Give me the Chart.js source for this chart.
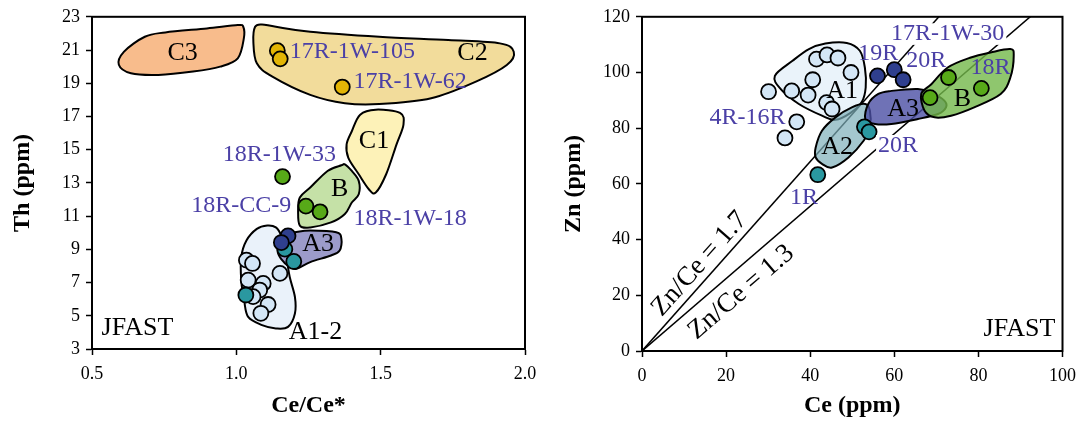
<!DOCTYPE html>
<html>
<head>
<meta charset="utf-8">
<script src="https://cdn.jsdelivr.net/npm/chart.js@4.4.0/dist/chart.umd.min.js"></script>
<style>
  html, body { margin: 0; padding: 0; background: #fff; }
  #wrap { position: relative; width: 1084px; height: 422px; }
  #left { position: absolute; left: 0; top: 0; width: 545px; height: 422px; }
  #right { position: absolute; left: 545px; top: 0; width: 539px; height: 422px; }
</style>
</head>
<body>
<div id="wrap">
  <canvas id="left" width="545" height="422"></canvas>
  <canvas id="right" width="539" height="422"></canvas>
</div>
<script>
// ---------- left panel: Ce/Ce* vs Th ----------
const ceAnomTicks = [0.5, 1.0, 1.5, 2.0];
const thTicks = [3, 5, 7, 9, 11, 13, 15, 17, 19, 21, 23];

const yellowCeAnom = [1.142, 1.152, 1.367];
const yellowTh = [20.96, 20.47, 18.77];
const greenCeAnom = [1.16, 1.241, 1.29];
const greenTh = [13.38, 11.6, 11.26];
const navyCeAnom = [1.179, 1.156];
const navyTh = [9.81, 9.41];
const tealCeAnom = [1.168, 1.199, 1.033];
const tealTh = [9.01, 8.27, 6.25];
const paleCeAnom = [1.035, 1.056, 1.151, 1.041, 1.093, 1.081, 1.058, 1.110, 1.085];
const paleTh = [8.35, 8.15, 7.55, 7.15, 6.95, 6.55, 6.15, 5.68, 5.15];

// field outlines, [Ce/Ce*, Th]
const fieldC3 = [[0.593,20.11],[0.611,20.9],[0.683,21.8],[0.754,22.06],[0.898,22.3],[1.005,22.5],[1.024,22.4],[1.026,21.7],[1.005,20.5],[0.944,20.0],[0.850,19.7],[0.730,19.5],[0.635,19.6]];
const fieldC2 = [[1.065,22.4],[1.089,22.54],[1.137,22.4],[1.256,22.1],[1.495,21.8],[1.734,21.6],[1.913,21.4],[1.961,20.9],[1.937,20.1],[1.830,19.1],[1.675,18.1],[1.495,17.75],[1.376,17.8],[1.256,18.3],[1.125,19.4],[1.071,20.2],[1.059,21.5]];
const fieldC1 = [[1.429,17.11],[1.483,17.41],[1.567,17.21],[1.579,16.51],[1.555,15.32],[1.519,13.52],[1.483,12.42],[1.459,12.62],[1.424,13.52],[1.388,14.51],[1.382,15.32],[1.400,16.11]];
const fieldB1 = [[1.376,14.12],[1.400,13.72],[1.424,13.12],[1.424,12.32],[1.40,11.82],[1.376,11.13],[1.328,10.62],[1.256,10.32],[1.22,10.43],[1.214,11.32],[1.22,12.12],[1.256,12.72],[1.316,13.72],[1.364,14.06]];
const fieldA12 = [[1.107,10.43],[1.137,10.32],[1.155,9.83],[1.173,8.53],[1.185,7.33],[1.203,6.13],[1.203,5.14],[1.179,4.33],[1.137,4.24],[1.089,4.44],[1.041,4.93],[1.027,5.93],[1.017,7.13],[1.017,8.53],[1.035,9.53],[1.071,10.23]];
const fieldA3L = [[1.203,10.03],[1.256,10.13],[1.346,10.03],[1.364,9.63],[1.358,8.93],[1.328,8.63],[1.256,8.23],[1.209,7.83],[1.185,7.93],[1.155,8.43],[1.143,8.93],[1.155,9.53],[1.173,9.93]];

// ---------- right panel: Ce vs Zn ----------
const ceTicks = [0, 20, 40, 60, 80, 100];
const znTicks = [0, 20, 40, 60, 80, 100, 120];

const paleCe = [30.1, 35.6, 39.5, 40.6, 41.5, 44.0, 46.6, 49.7, 43.9, 45.2, 36.8, 34.0];
const paleZn = [93.1, 93.4, 91.9, 97.4, 104.8, 106.3, 105.2, 100.0, 89.2, 86.9, 82.3, 76.5];
const navyCe = [56.0, 60.0, 62.1];
const navyZn = [98.8, 101.0, 97.4];
const tealCe = [52.9, 54.0, 41.8];
const tealZn = [80.5, 78.7, 63.3];
const greenCe = [68.5, 72.9, 80.7];
const greenZn = [91.0, 98.2, 94.3];

// Zn/Ce reference lines, end points [Ce, Zn]
const ratio17 = [[0, 0], [75, 127.5]];
const ratio13 = [[0, 0], [100, 130]];

const fieldA1 = [[31.6,98.8],[35.8,104.2],[39.7,108.4],[43.6,110.4],[48.7,110.6],[51.8,107.8],[53.0,101.8],[53.2,94.6],[52.3,89.5],[49.6,85.5],[46.0,83.0],[42.8,84.5],[37.3,88.7],[33.0,94.0]];
const fieldA2 = [[41.3,73.1],[42.8,79.1],[46.0,83.9],[49.9,87.5],[53.1,88.7],[54.2,86.3],[54.2,80.3],[52.7,75.5],[49.1,69.5],[45.2,65.9],[42.8,67.2],[41.3,69.5]];
const fieldA3R = [[53.8,88.7],[56.2,92.3],[59.3,93.4],[65.6,94.1],[68.8,92.8],[71.9,89.9],[72.3,87.5],[70.4,85.1],[65.6,83.3],[59.3,81.5],[55.4,81.5],[53.1,83.3]];
const fieldB2 = [[66.4,92.3],[68.8,95.8],[72.7,101.8],[78.2,105.4],[82.9,107.2],[87.6,108.4],[88.4,106.0],[87.6,98.2],[85.3,92.3],[79.0,87.5],[73.5,84.5],[69.6,83.9],[67.2,86.3]];

const SERIF = '"Liberation Serif", "Times New Roman", serif';
const LABEL_BLUE = '#4b40a6';

function zip(xs, ys) {
  return xs.map((v, i) => ({ x: v, y: ys[i] }));
}

// closed catmull-rom curve through the outline points
function blobPath(ctx, pts) {
  const n = pts.length;
  ctx.beginPath();
  ctx.moveTo(pts[0][0], pts[0][1]);
  for (let i = 0; i < n; i++) {
    const p0 = pts[(i - 1 + n) % n], p1 = pts[i], p2 = pts[(i + 1) % n], p3 = pts[(i + 2) % n];
    ctx.bezierCurveTo(
      p1[0] + (p2[0] - p0[0]) / 6, p1[1] + (p2[1] - p0[1]) / 6,
      p2[0] - (p3[0] - p1[0]) / 6, p2[1] - (p3[1] - p1[1]) / 6,
      p2[0], p2[1]);
  }
  ctx.closePath();
}

function makeOverlay(regions, labels) {
  return {
    id: 'overlay',
    beforeDraw(chart) { chart.$fieldsDone = false; },
    beforeDatasetDraw(chart, args) {
      if (chart.$fieldsDone || args.meta.type !== 'scatter') return;
      chart.$fieldsDone = true;
      const { ctx, chartArea: a } = chart;
      const xs = chart.scales.x, ys = chart.scales.y;
      ctx.save();
      ctx.beginPath();
      ctx.rect(a.left, a.top, a.width, a.height);
      ctx.clip();
      regions.forEach(r => {
        const pts = r.outline.map(p => [xs.getPixelForValue(p[0]), ys.getPixelForValue(p[1])]);
        blobPath(ctx, pts);
        ctx.fillStyle = r.fill;
        ctx.fill();
        ctx.lineWidth = 2;
        ctx.strokeStyle = '#000';
        ctx.stroke();
      });
      ctx.restore();
    },
    afterDatasetsDraw(chart) {
      const ctx = chart.ctx;
      const xs = chart.scales.x, ys = chart.scales.y;
      labels.forEach(l => {
        const px = xs.getPixelForValue(l.x), py = ys.getPixelForValue(l.y);
        ctx.save();
        ctx.font = l.size + 'px ' + SERIF;
        ctx.textAlign = l.align || 'center';
        ctx.textBaseline = 'middle';
        ctx.translate(px, py);
        if (l.along) {
          const x0 = xs.getPixelForValue(l.along[0][0]), y0 = ys.getPixelForValue(l.along[0][1]);
          const x1 = xs.getPixelForValue(l.along[1][0]), y1 = ys.getPixelForValue(l.along[1][1]);
          ctx.rotate(Math.atan2(y1 - y0, x1 - x0));
        }
        if (l.bg) {
          const w = ctx.measureText(l.text).width;
          let left = -w / 2;
          if (ctx.textAlign === 'left') left = 0;
          if (ctx.textAlign === 'right') left = -w;
          ctx.fillStyle = '#fff';
          ctx.fillRect(left - 2, -l.size * 0.45, w + 4, l.size * 0.9);
        }
        ctx.fillStyle = l.color || '#000';
        ctx.fillText(l.text, 0, 0);
        ctx.restore();
      });
    },
    afterDraw(chart) {
      const { ctx, chartArea: a } = chart;
      ctx.save();
      ctx.lineWidth = 2;
      ctx.strokeStyle = '#000';
      ctx.strokeRect(a.left, a.top, a.width, a.height);
      ctx.restore();
    }
  };
}

function dots(data, color) {
  return {
    type: 'scatter',
    data: data,
    pointRadius: 7.5,
    pointHoverRadius: 7.5,
    pointBackgroundColor: color,
    pointBorderColor: '#000',
    pointBorderWidth: 1.8
  };
}

function axis(tickValues, title, fmt, boxSize, horizontal, titlePad) {
  return {
    type: 'linear',
    min: tickValues[0],
    max: tickValues[tickValues.length - 1],
    afterBuildTicks(scale) {
      scale.ticks = tickValues.map(v => ({ value: v }));
    },
    afterFit(scale) {
      if (horizontal) scale.height = boxSize; else scale.width = boxSize;
    },
    ticks: {
      color: '#000',
      font: { family: SERIF, size: 18 },
      padding: horizontal ? 8 : 6,
      autoSkip: false,
      maxRotation: 0,
      callback: fmt
    },
    grid: {
      drawOnChartArea: false,
      drawTicks: true,
      tickLength: 6,
      tickColor: '#000',
      tickWidth: 1.5
    },
    border: { display: true, color: '#000', width: 2 },
    title: {
      display: true,
      text: title,
      color: '#000',
      font: { family: SERIF, size: 24, weight: 'bold' },
      padding: titlePad
    }
  };
}

const baseOptions = {
  responsive: false,
  animation: false,
  events: [],
  plugins: { legend: { display: false }, tooltip: { enabled: false } }
};

// ---------- left chart ----------
new Chart(document.getElementById('left').getContext('2d'), {
  type: 'scatter',
  data: {
    datasets: [
      dots(zip(navyCeAnom, navyTh), '#2f3f8e'),
      dots(zip(tealCeAnom, tealTh), '#2a98a0'),
      dots(zip(greenCeAnom, greenTh), '#57a918'),
      dots(zip(yellowCeAnom, yellowTh), '#e2b405'),
      dots(zip(paleCeAnom, paleTh), '#d3e6f6')
    ]
  },
  options: {
    ...baseOptions,
    layout: { padding: { left: 0, right: 20, top: 15, bottom: 0 } },
    scales: {
      x: axis(ceAnomTicks, 'Ce/Ce*', v => v.toFixed(1), 73, true, { top: 2, bottom: 2 }),
      y: axis(thTicks, 'Th (ppm)', v => String(v), 92, false, { top: 8, bottom: 8 })
    }
  },
  plugins: [makeOverlay(
    [
      { outline: fieldC3, fill: '#f8bc8c' },
      { outline: fieldC2, fill: '#f2dc9b' },
      { outline: fieldC1, fill: '#fdf2b8' },
      { outline: fieldB1, fill: '#c5e1a7' },
      { outline: fieldA12, fill: '#eaf2fa' },
      { outline: fieldA3L, fill: '#9c9bca' }
    ],
    [
      { text: 'C3', x: 0.814, y: 20.8, size: 26 },
      { text: 'C2', x: 1.818, y: 20.8, size: 26 },
      { text: 'C1', x: 1.477, y: 15.5, size: 26 },
      { text: 'B', x: 1.358, y: 12.6, size: 26 },
      { text: 'A3', x: 1.283, y: 9.3, size: 26 },
      { text: 'A1-2', x: 1.274, y: 4.0, size: 26 },
      { text: 'JFAST', x: 0.533, y: 4.24, size: 26, align: 'left' },
      { text: '17R-1W-105', x: 1.185, y: 20.9, size: 24, align: 'left', color: LABEL_BLUE },
      { text: '17R-1W-62', x: 1.406, y: 19.1, size: 24, align: 'left', color: LABEL_BLUE },
      { text: '18R-1W-33', x: 1.149, y: 14.7, size: 24, color: LABEL_BLUE },
      { text: '18R-CC-9', x: 1.19, y: 11.6, size: 24, align: 'right', color: LABEL_BLUE },
      { text: '18R-1W-18', x: 1.406, y: 10.83, size: 24, align: 'left', color: LABEL_BLUE }
    ]
  )]
});

// ---------- right chart ----------
const refLine = (pts) => ({
  type: 'line',
  order: 10,
  data: pts.map(p => ({ x: p[0], y: p[1] })),
  borderColor: '#000',
  borderWidth: 1.5,
  pointRadius: 0,
  fill: false,
  tension: 0
});

new Chart(document.getElementById('right').getContext('2d'), {
  type: 'scatter',
  data: {
    datasets: [
      dots(zip(navyCe, navyZn), '#2f3f8e'),
      dots(zip(greenCe, greenZn), '#57a918'),
      dots(zip(tealCe, tealZn), '#2a98a0'),
      dots(zip(paleCe, paleZn), '#d3e6f6'),
      refLine(ratio17),
      refLine(ratio13)
    ]
  },
  options: {
    ...baseOptions,
    layout: { padding: { left: 0, right: 18, top: 16, bottom: 0 } },
    scales: {
      x: axis(ceTicks, 'Ce (ppm)', v => String(v), 71, true, { top: 2, bottom: 2 }),
      y: axis(znTicks, 'Zn (ppm)', v => String(v), 97, false, { top: 14, bottom: 14 })
    }
  },
  plugins: [makeOverlay(
    [
      { outline: fieldA1, fill: 'rgba(232,242,250,0.9)' },
      { outline: fieldA2, fill: 'rgba(125,175,185,0.7)' },
      { outline: fieldA3R, fill: 'rgba(75,79,164,0.8)' },
      { outline: fieldB2, fill: 'rgba(115,184,74,0.8)' }
    ],
    [
      { text: 'A1', x: 47.6, y: 93.4, size: 26 },
      { text: 'A2', x: 46.4, y: 73.1, size: 26 },
      { text: 'A3', x: 62.1, y: 86.9, size: 26 },
      { text: 'B', x: 76.2, y: 90.5, size: 26 },
      { text: 'JFAST', x: 98.3, y: 8.0, size: 26, align: 'right' },
      { text: '19R', x: 56.2, y: 106.6, size: 24, color: LABEL_BLUE },
      { text: '17R-1W-30', x: 72.7, y: 113.8, size: 24, color: LABEL_BLUE, bg: true },
      { text: '20R', x: 67.6, y: 104.2, size: 24, color: LABEL_BLUE },
      { text: '18R', x: 82.9, y: 101.8, size: 24, color: LABEL_BLUE },
      { text: '4R-16R', x: 25.1, y: 83.9, size: 24, color: LABEL_BLUE },
      { text: '20R', x: 60.9, y: 73.7, size: 24, color: LABEL_BLUE, bg: true },
      { text: '1R', x: 38.5, y: 55.2, size: 24, color: LABEL_BLUE },
      { text: 'Zn/Ce = 1.7', x: 13.7, y: 31.3, size: 27, along: ratio17 },
      { text: 'Zn/Ce = 1.3', x: 23.6, y: 21.1, size: 27, along: ratio13 }
    ]
  )]
});
</script>
</body>
</html>
